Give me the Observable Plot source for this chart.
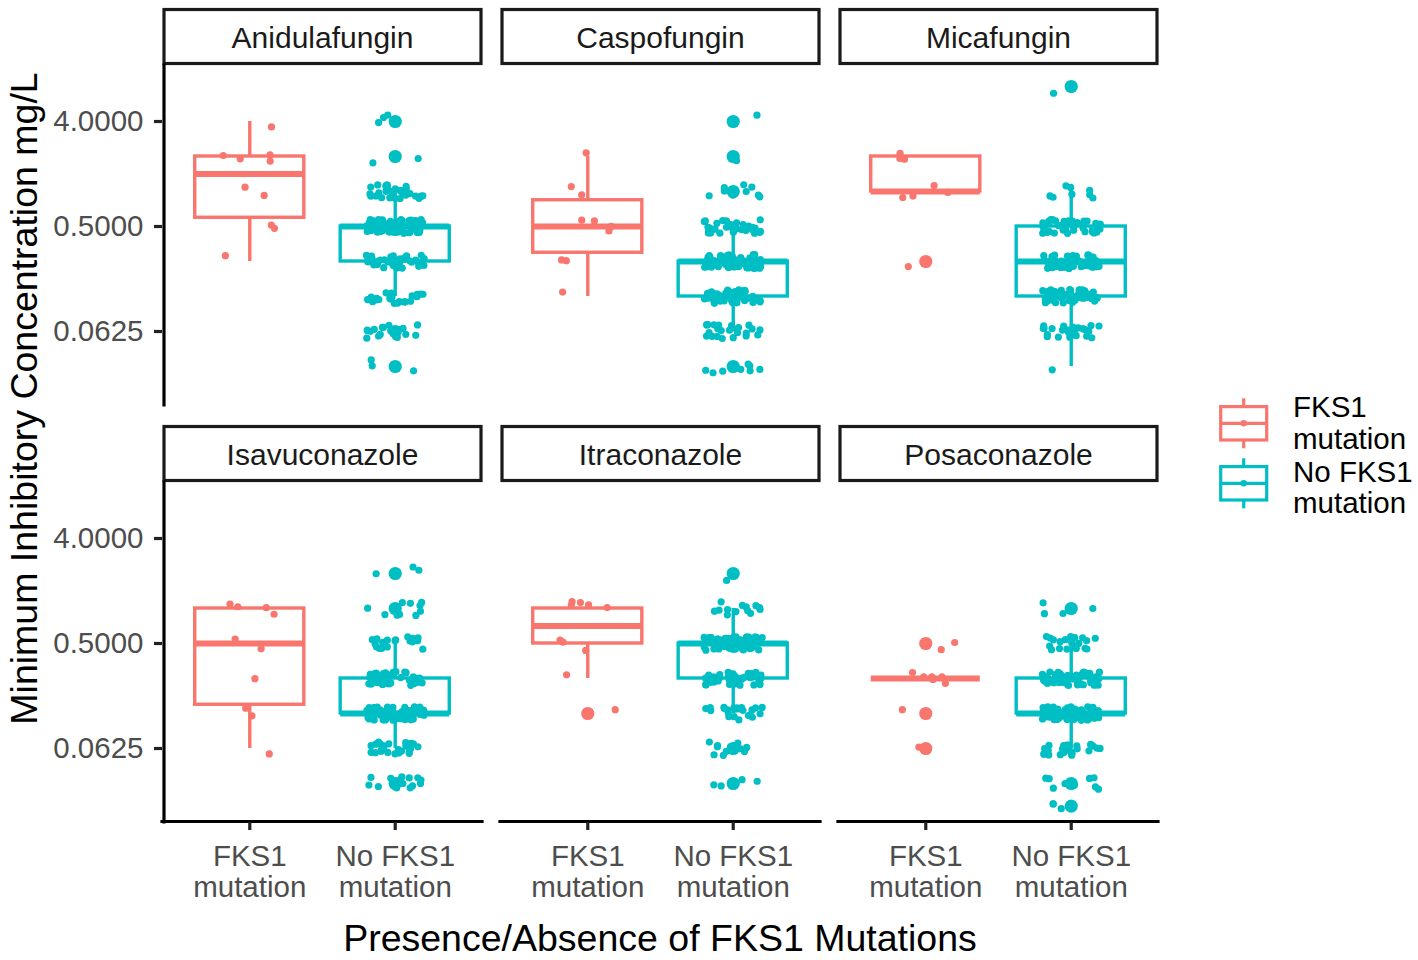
<!DOCTYPE html>
<html>
<head>
<meta charset="utf-8">
<script src="https://cdn.jsdelivr.net/npm/d3@7"></script>
<script src="https://cdn.jsdelivr.net/npm/@observablehq/plot@0.6"></script>
<style>
  body { margin: 0; background: #fff; }
  #wrap { position: relative; width: 1418px; height: 960px; background: #fff; }
  #chart { position: absolute; left: 0; top: 0; }
</style>
</head>
<body>
<div id="wrap"><div id="chart"></div></div>
<script>
// ---------------- data ----------------
const drugs = ["Anidulafungin", "Caspofungin", "Micafungin", "Isavuconazole", "Itraconazole", "Posaconazole"];
const groups = ["FKS1 mutation", "No FKS1 mutation"];
const groupTickLabels = ["FKS1\nmutation", "No FKS1\nmutation"];
const groupLegendLines = [["FKS1", "mutation"], ["No FKS1", "mutation"]];
const groupColors = ["#F8766D", "#00BFC4"];
// MIC levels (mg/L) used by the counts arrays below
const micLevels = [8, 4, 2, 1, 0.5, 0.25, 0.125, 0.0625, 0.03125, 0.02];
const yTickValues = [4, 0.5, 0.0625];
const xTitle = "Presence/Absence of FKS1 Mutations";
const yTitle = "Minimum Inhibitory Concentration mg/L";

// number of isolates at each MIC level (same order as micLevels)
const anidulafunginFKS1   = [0, 1, 4, 2, 2, 1, 0, 0, 0, 0];
const anidulafunginNoFKS1 = [0, 3, 3, 30, 62, 45, 24, 18, 3, 0];
const caspofunginFKS1     = [0, 0, 1, 2, 4, 2, 1, 0, 0, 0];
const caspofunginNoFKS1   = [0, 2, 1, 9, 30, 65, 45, 24, 10, 0];
const micafunginFKS1      = [0, 0, 3, 4, 0, 1, 0, 0, 0, 0];
const micafunginNoFKS1    = [1, 0, 0, 8, 45, 60, 52, 24, 1, 0];
const isavuconazoleFKS1   = [0, 0, 0, 4, 2, 1, 2, 1, 0, 0];
const isavuconazoleNoFKS1 = [0, 0, 3, 10, 20, 40, 65, 26, 14, 0];
const itraconazoleFKS1    = [0, 0, 0, 5, 3, 1, 1, 0, 0, 0];
const itraconazoleNoFKS1  = [0, 0, 1, 13, 78, 45, 23, 13, 4, 0];
const posaconazoleFKS1    = [0, 0, 0, 0, 2, 6, 1, 1, 0, 0];
const posaconazoleNoFKS1  = [0, 0, 0, 4, 20, 58, 65, 28, 10, 3];

const countsByDrug = [
  [anidulafunginFKS1, anidulafunginNoFKS1],
  [caspofunginFKS1, caspofunginNoFKS1],
  [micafunginFKS1, micafunginNoFKS1],
  [isavuconazoleFKS1, isavuconazoleNoFKS1],
  [itraconazoleFKS1, itraconazoleNoFKS1],
  [posaconazoleFKS1, posaconazoleNoFKS1]
];

// ---------------- build tables ----------------
const FONT = '"Liberation Sans", Arial, Helvetica, sans-serif';
// deterministic jitter generator (display only, like geom_jitter)
function jitterGen(seed) {
  let a = seed >>> 0;
  return function () {
    a = (a + 0x6D2B79F5) | 0;
    let t = Math.imul(a ^ (a >>> 15), 1 | a);
    t = (t + Math.imul(t ^ (t >>> 7), 61 | t)) ^ t;
    return ((t ^ (t >>> 14)) >>> 0) / 4294967296;
  };
}
const jit = jitterGen(20240611);

const points = [];
const boxes = [];
const outliers = [];
const strips = drugs.map((drug, k) => ({drug, col: k % 3, row: Math.floor(k / 3)}));
const leftPanels = [{col: 0, row: 0}, {col: 0, row: 1}];
const bottomPanels = [{col: 0, row: 1}, {col: 1, row: 1}, {col: 2, row: 1}];

countsByDrug.forEach((pair, k) => {
  const col = k % 3, row = Math.floor(k / 3);
  pair.forEach((counts, g) => {
    const vals = [];
    counts.forEach((c, j) => {
      const lv = Math.log2(micLevels[j]);
      for (let i = 0; i < c; i++) {
        vals.push(lv);
        points.push({col, row, group: groups[g], pos: g + 1, lv,
          jx: (jit() * 2 - 1) * 0.2, jy: (jit() * 2 - 1) * 0.2});
      }
    });
    vals.sort((a, b) => a - b);
    const q1 = d3.quantile(vals, 0.25), med = d3.quantile(vals, 0.5), q3 = d3.quantile(vals, 0.75);
    const iqr = q3 - q1;
    const loF = q1 - 1.5 * iqr, hiF = q3 + 1.5 * iqr;
    const lo = d3.min(vals.filter(v => v >= loF));
    const hi = d3.max(vals.filter(v => v <= hiF));
    boxes.push({col, row, group: groups[g], pos: g + 1, q1, med, q3, lo, hi});
    Array.from(new Set(vals.filter(v => v < loF || v > hiF))).forEach(v =>
      outliers.push({col, row, group: groups[g], pos: g + 1, lv: v}));
  });
});

// ---------------- plot ----------------
const BW = 0.375;      // half box width (x units)
const LW = 3.4;        // line width
const YMIN = -6.114, YMAX = 3.6;
const chart = Plot.plot({
  width: 1418,
  height: 960,
  marginLeft: 162,
  marginRight: 260,
  marginTop: 65,
  marginBottom: 138,
  style: {fontFamily: FONT, fontSize: "29.5px", background: "white", color: "black"},
  facet: {marginTop: 0, marginRight: 0, marginBottom: 0, marginLeft: 0},
  fx: {domain: [0, 1, 2], paddingInner: 1 - 320 / 338, paddingOuter: 0, round: false, axis: null, label: null},
  fy: {domain: [0, 1], paddingInner: 1 - 340 / 417, paddingOuter: 0, round: false, axis: null, label: null},
  x: {domain: [0.4, 2.6]},
  y: {domain: [YMIN, YMAX]},
  color: {type: "ordinal", domain: groups, range: groupColors, legend: false},
  marks: [
    // strip boxes above each panel
    Plot.frame({stroke: "#1A1A1A", strokeWidth: 3.2, fill: "white",
      insetTop: -56, insetBottom: 342, insetLeft: 1.5, insetRight: 1.5}),
    Plot.text(strips, {fx: "col", fy: "row", text: "drug", frameAnchor: "top",
      dy: -27, lineAnchor: "middle", fill: "#1A1A1A", fontSize: 30}),
    // axis lines (left column / bottom row only)
    Plot.ruleX(leftPanels, {fx: "col", fy: "row", x: 0.4, dx: 1.5, stroke: "black", strokeWidth: 3.2, strokeLinecap: "square"}),
    Plot.ruleY(bottomPanels, {fx: "col", fy: "row", y: YMIN, dy: -1, stroke: "black", strokeWidth: 3.2, strokeLinecap: "square"}),
    Plot.axisY({facetAnchor: "left", ticks: yTickValues.map(Math.log2),
      tickFormat: d => Math.pow(2, d).toFixed(4), tickSize: 8, tickPadding: 11,
      label: null, stroke: "#222", strokeWidth: 3.2, fill: "#4D4D4D", fontSize: 29.5}),
    Plot.axisX({facetAnchor: "bottom", ticks: [1, 2], tickFormat: d => groupTickLabels[d - 1],
      tickSize: 8, tickPadding: 13, label: null, stroke: "#222", strokeWidth: 3.2,
      fill: "#4D4D4D", fontSize: 29.5, lineHeight: 1.06}),
    // whiskers
    Plot.ruleX(boxes, {fx: "col", fy: "row", x: "pos", y1: "q3", y2: "hi", stroke: "group", strokeWidth: LW}),
    Plot.ruleX(boxes, {fx: "col", fy: "row", x: "pos", y1: "lo", y2: "q1", stroke: "group", strokeWidth: LW}),
    // boxes
    Plot.rect(boxes, {fx: "col", fy: "row", x1: d => d.pos - BW, x2: d => d.pos + BW,
      y1: "q1", y2: "q3", fill: "white", stroke: "group", strokeWidth: LW}),
    // medians
    Plot.ruleY(boxes, {fx: "col", fy: "row", y: "med", x1: d => d.pos - BW, x2: d => d.pos + BW,
      stroke: "group", strokeWidth: 6.2, strokeLinecap: "butt"}),
    // outliers
    Plot.dot(outliers, {fx: "col", fy: "row", x: "pos", y: "lv", r: 6.6, fill: "group", stroke: null}),
    // jittered observations
    Plot.dot(points, {fx: "col", fy: "row", x: d => d.pos + d.jx, y: d => d.lv + d.jy,
      r: 3.6, fill: "group", stroke: null})
  ]
});
document.getElementById("chart").appendChild(chart);

// ---------------- titles & legend (overlay) ----------------
const ov = d3.select("#wrap").append("svg")
  .attr("width", 1418).attr("height", 960)
  .style("position", "absolute").style("left", "0px").style("top", "0px")
  .style("pointer-events", "none")
  .attr("font-family", FONT);

ov.append("text")
  .attr("transform", "translate(37,398.5) rotate(-90)")
  .attr("text-anchor", "middle").attr("font-size", 37.5).attr("fill", "black")
  .text(yTitle);
ov.append("text")
  .attr("x", 660).attr("y", 951)
  .attr("text-anchor", "middle").attr("font-size", 37.5).attr("fill", "black")
  .text(xTitle);

const keyX = 1243.7, keyCY = [423.3, 483.3];
const textBase = [[417, 449], [482, 513]];
groups.forEach((g, i) => {
  const c = groupColors[i], cy = keyCY[i];
  const k = ov.append("g").attr("stroke", c).attr("stroke-width", 3.2).attr("fill", "none");
  k.append("line").attr("x1", keyX).attr("x2", keyX).attr("y1", cy - 25).attr("y2", cy - 16.7);
  k.append("line").attr("x1", keyX).attr("x2", keyX).attr("y1", cy + 16.7).attr("y2", cy + 25);
  k.append("rect").attr("x", keyX - 23).attr("y", cy - 16.7).attr("width", 46).attr("height", 33.4).attr("fill", "white");
  k.append("line").attr("x1", keyX - 23).attr("x2", keyX + 23).attr("y1", cy).attr("y2", cy);
  ov.append("circle").attr("cx", keyX).attr("cy", cy).attr("r", 3.2).attr("fill", c);
  groupLegendLines[i].forEach((line, j) => {
    ov.append("text").attr("x", 1293).attr("y", textBase[i][j])
      .attr("font-size", 29.5).attr("fill", "black").text(line);
  });
});
</script>
</body>
</html>
